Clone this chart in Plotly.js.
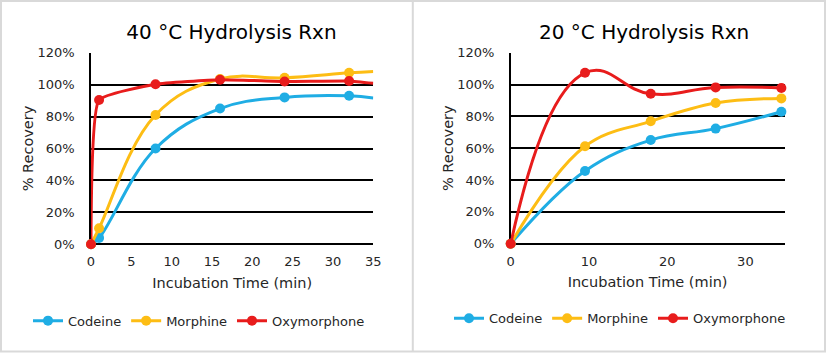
<!DOCTYPE html>
<html>
<head>
<meta charset="utf-8">
<script src="https://cdn.plot.ly/plotly-3.0.1.min.js"></script>
<style>
  html, body { margin: 0; padding: 0; background: #ffffff; }
  #chart { width: 826px; height: 353px; }
</style>
</head>
<body>
<div id="chart"></div>
<script>
// ---------------- data ----------------
const compounds = ["Codeine", "Morphine", "Oxymorphone"];

// 40 °C panel (last point = where the curve leaves the plot at 35 min, no marker)
const time40 = [0, 1, 8, 16, 24, 32, 35];
const codeine40 = [0.00, 0.04, 0.60, 0.85, 0.92, 0.93, 0.916];
const morphine40 = [0.00, 0.10, 0.81, 1.035, 1.043, 1.074, 1.083];
const oxymorphone40 = [0.00, 0.904, 1.002, 1.031, 1.020, 1.023, 1.008];

// 20 °C panel
const time20 = [0, 9.5, 17.9, 26.2, 34.6];
const codeine20 = [0.00, 0.457, 0.651, 0.723, 0.829];
const morphine20 = [0.00, 0.612, 0.769, 0.884, 0.913];
const oxymorphone20 = [0.00, 1.074, 0.942, 0.982, 0.978];

const xTicks40 = [0, 5, 10, 15, 20, 25, 30, 35];
const xTicks20 = [0, 10, 20, 30];
const yTicks = [0, 0.2, 0.4, 0.6, 0.8, 1.0, 1.2];

const titles = ["40 °C Hydrolysis Rxn", "20 °C Hydrolysis Rxn"];
const xTitle = "Incubation Time (min)";
const yTitle = "% Recovery";

const colors = ["#1FADE4", "#FDBD14", "#E81C1C"];

// ---------------- build ----------------
const W = 826, H = 353;
const px = v => v / W;
const py = v => 1 - v / H;
const FONT = "DejaVu Sans, Verdana, sans-serif";

const series40 = [codeine40, morphine40, oxymorphone40];
const series20 = [codeine20, morphine20, oxymorphone20];
const smooth40 = [1.15, 1.15, 0.4];
const smooth20 = [1.1, 1.1, 1.3];

const traces = [];
series40.forEach((ys, i) => {
  traces.push({
    x: time40, y: ys, name: compounds[i], type: "scatter", mode: "lines+markers",
    xaxis: "x", yaxis: "y", legend: "legend",
    line: { color: colors[i], width: 3, shape: "spline", smoothing: smooth40[i] },
    marker: { color: time40.map(t => (t < 35 ? colors[i] : "rgba(0,0,0,0)")), size: 10 },
    cliponaxis: false, hoverinfo: "x+y+name"
  });
});
series20.forEach((ys, i) => {
  traces.push({
    x: time20, y: ys, name: compounds[i], type: "scatter", mode: "lines+markers",
    xaxis: "x2", yaxis: "y2", legend: "legend2",
    line: { color: colors[i], width: 3, shape: "spline", smoothing: smooth20[i] },
    marker: { color: colors[i], size: 10 },
    cliponaxis: false, hoverinfo: "x+y+name"
  });
});

const tickFont = { family: FONT, size: 13, color: "#262626" };
const axTitleFont = { family: FONT, size: 14.5, color: "#262626" };

function xAxis(domain, ticks, anchor) {
  return {
    domain: domain, anchor: anchor, range: [0, 35], tickmode: "array", tickvals: ticks,
    showgrid: false, zeroline: false, showline: false, ticks: "", layer: "below traces",
    tickfont: tickFont, ticklabelstandoff: 8, fixedrange: true,
    title: { text: xTitle, font: axTitleFont, standoff: 9 }
  };
}
function yAxis(domain, anchor) {
  return {
    domain: domain, anchor: anchor, range: [0, 1.2], tickmode: "array", tickvals: yTicks,
    tickformat: ".0%", showgrid: true, gridcolor: "#000000", gridwidth: 1.6,
    zeroline: true, zerolinecolor: "#000000", zerolinewidth: 1.6,
    showline: true, linecolor: "#000000", linewidth: 1.6, ticks: "", layer: "below traces",
    tickfont: tickFont, ticklabelstandoff: 12, fixedrange: true,
    title: { text: yTitle, font: axTitleFont, standoff: 0 }
  };
}

const legendFont = { family: FONT, size: 13, color: "#262626" };

const layout = {
  width: W, height: H,
  margin: { l: 0, r: 0, t: 0, b: 0, pad: 0 },
  paper_bgcolor: "#ffffff", plot_bgcolor: "#ffffff",
  showlegend: true,
  title: {
    text: titles[0], x: px(231.5), xanchor: "center", xref: "paper",
    y: py(32), yanchor: "middle", yref: "paper",
    font: { family: FONT, size: 20, color: "#000000" }
  },
  annotations: [{
    text: titles[1], xref: "paper", yref: "paper", x: px(644), y: py(32),
    xanchor: "center", yanchor: "middle", showarrow: false,
    font: { family: FONT, size: 20, color: "#000000" }
  }],
  xaxis: xAxis([px(91), px(373.3)], xTicks40, "y"),
  yaxis: yAxis([py(244.3), py(52.7)], "x"),
  xaxis2: xAxis([px(510.7), px(784.5)], xTicks20, "y2"),
  yaxis2: yAxis([py(243.7), py(52.7)], "x2"),
  legend: {
    orientation: "h", x: px(28), xanchor: "left", y: py(320.7), yanchor: "middle",
    font: legendFont, bgcolor: "rgba(0,0,0,0)", itemclick: false, itemdoubleclick: false
  },
  legend2: {
    orientation: "h", x: px(449), xanchor: "left", y: py(318.3), yanchor: "middle",
    font: legendFont, bgcolor: "rgba(0,0,0,0)", itemclick: false, itemdoubleclick: false
  },
  shapes: [
    { type: "rect", xref: "paper", yref: "paper", x0: px(1), x1: px(825), y0: py(351.5), y1: py(1),
      line: { color: "#D9D9D9", width: 2 }, fillcolor: "rgba(0,0,0,0)", layer: "below" },
    { type: "line", xref: "paper", yref: "paper", x0: px(412.8), x1: px(412.8), y0: py(351.5), y1: py(1),
      line: { color: "#D9D9D9", width: 2 }, layer: "below" }
  ]
};

Plotly.newPlot("chart", traces, layout, { displayModeBar: false, staticPlot: false, responsive: false });
</script>
</body>
</html>
